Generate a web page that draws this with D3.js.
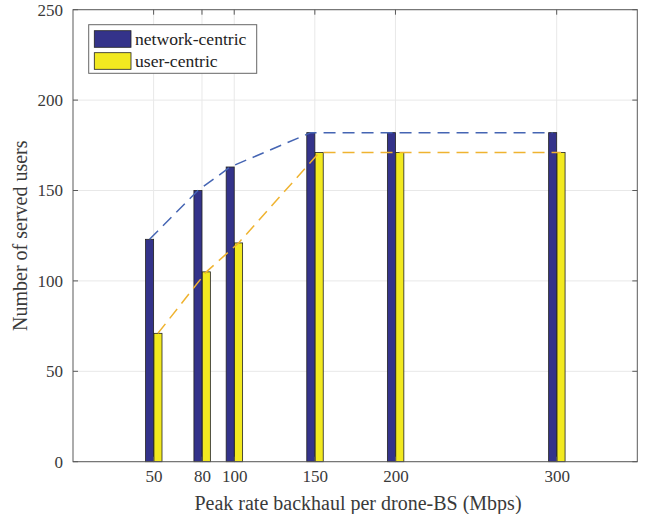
<!DOCTYPE html>
<html><head><meta charset="utf-8">
<script src="https://cdn.jsdelivr.net/npm/d3@7"></script>
<style>body{margin:0;background:#fff}svg{display:block}</style>
</head><body><svg id="c" width="651" height="514"></svg>
<script>
const rates = [50, 80, 100, 150, 200, 300];
const networkCentric = [123, 150, 163, 182, 182, 182];
const userCentric = [71, 105, 121, 171, 171, 171];
const yTicks = [0, 50, 100, 150, 200, 250];
const seriesNames = ["network-centric", "user-centric"];

const FONT = '"Liberation Serif", "Times New Roman", serif';
const svg = d3.select("#c");
const L = 73, R = 637.3, T = 9.7, B = 461.7;
const x = d3.scaleLinear().domain([0, 350]).range([L, R]);
const y = d3.scaleLinear().domain([0, 250]).range([B, T]);
const bw = 5; // bar width in data units
const cols = ["#34338a", "#f2e920"];
const lineCols = ["#4565b3", "#efb330"];
const txt = "#3a3a3a", axc = "#5a5a5a";

// grid
const g = svg.append("g");
g.selectAll(".gx").data(rates).join("line")
  .attr("x1", d => x(d)).attr("x2", d => x(d)).attr("y1", T).attr("y2", B)
  .attr("stroke", "#e8e8e8").attr("stroke-width", 1);
g.selectAll(".gy").data(yTicks).join("line")
  .attr("x1", L).attr("x2", R).attr("y1", d => y(d)).attr("y2", d => y(d))
  .attr("stroke", "#e8e8e8").attr("stroke-width", 1);

// bars
const series = [networkCentric, userCentric];
series.forEach((vals, si) => {
  svg.append("g").selectAll("rect").data(rates.map((r, i) => ({r, v: vals[i]}))).join("rect")
    .attr("x", d => si === 0 ? x(d.r - bw) : x(d.r + 0.2))
    .attr("width", x(bw) - x(0))
    .attr("y", d => y(d.v)).attr("height", d => y(0) - y(d.v))
    .attr("fill", cols[si]).attr("stroke", "#222").attr("stroke-width", 0.8);
});

// dashed lines through bar centres
series.forEach((vals, si) => {
  const off = si === 0 ? -bw / 2 : bw / 2 + 0.2;
  const line = d3.line().x(d => x(d.r + off)).y(d => y(d.v));
  svg.append("path").datum(rates.map((r, i) => ({r, v: vals[i]})))
    .attr("d", line).attr("fill", "none").attr("stroke", lineCols[si])
    .attr("stroke-width", 1.5).attr("stroke-dasharray", "12,7");
});

// axes
const xAxis = d3.axisBottom(x).tickValues(rates).tickSize(0).tickPadding(8).tickFormat(d3.format("d"));
const yAxis = d3.axisLeft(y).tickValues(yTicks).tickSize(0).tickPadding(10).tickFormat(d3.format("d"));
const xa = svg.append("g").attr("transform", `translate(0,${B})`).call(xAxis);
const ya = svg.append("g").attr("transform", `translate(${L},0)`).call(yAxis);
[xa, ya].forEach(a => {
  a.select(".domain").remove();
  a.selectAll("text").style("font-family", FONT).style("font-size", "17px").attr("fill", txt);
});
// inward ticks
const tl = 5;
svg.append("g").selectAll("line").data(rates).join("line")
  .attr("x1", d => x(d)).attr("x2", d => x(d)).attr("y1", B).attr("y2", B - tl).attr("stroke", axc);
svg.append("g").selectAll("line").data(rates).join("line")
  .attr("x1", d => x(d)).attr("x2", d => x(d)).attr("y1", T).attr("y2", T + tl).attr("stroke", axc);
svg.append("g").selectAll("line").data(yTicks).join("line")
  .attr("x1", L).attr("x2", L + tl).attr("y1", d => y(d)).attr("y2", d => y(d)).attr("stroke", axc);
svg.append("g").selectAll("line").data(yTicks).join("line")
  .attr("x1", R).attr("x2", R - tl).attr("y1", d => y(d)).attr("y2", d => y(d)).attr("stroke", axc);
// box
svg.append("rect").attr("x", L).attr("y", T).attr("width", R - L).attr("height", B - T)
  .attr("fill", "none").attr("stroke", axc).attr("stroke-width", 1);

// labels
svg.append("text").attr("x", 358).attr("y", 510).attr("text-anchor", "middle")
  .style("font-family", FONT).style("font-size", "20px").attr("fill", txt)
  .text("Peak rate backhaul per drone-BS (Mbps)");
svg.append("text").attr("transform", `translate(27,${(T + B) / 2}) rotate(-90)`)
  .attr("text-anchor", "middle").style("font-family", FONT).style("font-size", "20px").attr("fill", txt)
  .text("Number of served users");

// legend
const lg = svg.append("g");
lg.append("rect").attr("x", 88.7).attr("y", 24.7).attr("width", 168).attr("height", 48.6)
  .attr("fill", "#fff").attr("stroke", "#666").attr("stroke-width", 1);
seriesNames.forEach((n, i) => {
  lg.append("rect").attr("x", 94.3).attr("y", 30.7 + i * 22).attr("width", 36.7).attr("height", 16.6)
    .attr("fill", cols[i]).attr("stroke", "#222").attr("stroke-width", 0.8);
  lg.append("text").attr("x", 135).attr("y", 45 + i * 22)
    .style("font-family", FONT).style("font-size", "17.6px").attr("fill", "#222").text(n);
});
</script></body></html>
